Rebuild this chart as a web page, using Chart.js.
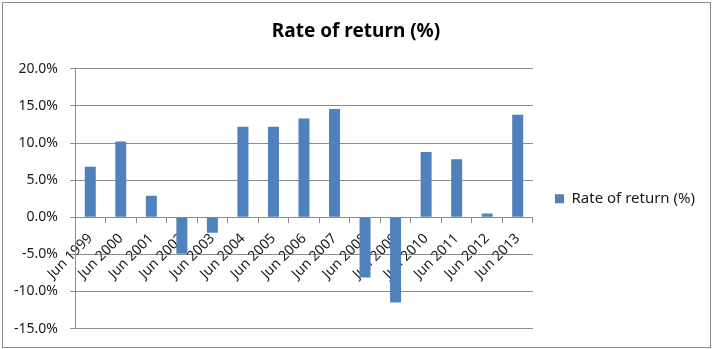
<!DOCTYPE html>
<html lang="en">
<head>
  <meta charset="UTF-8">
  <title>Rate of return</title>
  <style>
    body { margin: 0; background: #fff; }
  </style>
</head>
<body>

  <canvas id="myChart" width="713" height="349"></canvas>

  <script src="https://cdn.jsdelivr.net/npm/chart.js"></script>
  <script>
const labels = ['Jun 1999', 'Jun 2000', 'Jun 2001', 'Jun 2002', 'Jun 2003', 'Jun 2004', 'Jun 2005', 'Jun 2006',
                'Jun 2007', 'Jun 2008', 'Jun 2009', 'Jun 2010', 'Jun 2011', 'Jun 2012', 'Jun 2013'];
const returns = [6.8, 10.2, 2.9, -4.9, -2.1, 12.2, 12.2, 13.3, 14.6, -8.1, -11.5, 8.8, 7.8, 0.5, 13.8]; // %
const yTicks = [-15, -10, -5, 0, 5, 10, 15, 20];

const FONT = '"Noto Sans", "Liberation Sans", sans-serif';

// outer frame like the excel chart border
const framePlugin = {
  id: 'frame',
  afterDraw: (chart) => {
    const ctx = chart.ctx;
    ctx.save();
    ctx.strokeStyle = '#8a8a8a';
    ctx.lineWidth = 1;
    ctx.strokeRect(2.5, 2.5, 708, 345);
    ctx.restore();
  }
};

const ctx = document.getElementById('myChart').getContext('2d');
const myChart = new Chart(ctx, {
  type: 'bar',
  data: {
    labels: labels,
    datasets: [{
      label: 'Rate of return (%)',
      data: returns,
      backgroundColor: '#4f81bd',
      borderWidth: 0,
      categoryPercentage: 1,
      barPercentage: 0.36
    }]
  },
  options: {
    responsive: false,
    animation: false,
    layout: { padding: { left: 7, right: 8, top: 0, bottom: 16 } },
    scales: {
      x: {
        position: { y: 0 },
        grid: {
          offset: true,
          drawOnChartArea: false,
          drawTicks: true,
          tickLength: 5,
          color: '#8c8c8c'
        },
        border: { display: true, color: '#8c8c8c' },
        ticks: {
          minRotation: 45,
          maxRotation: 45,
          autoSkip: false,
          padding: 8,
          color: '#1a1a1a',
          font: { family: FONT, size: 14 }
        }
      },
      y: {
        min: -15,
        max: 20,
        afterBuildTicks: (scale) => { scale.ticks = yTicks.map(v => ({ value: v })); },
        afterFit: (scale) => { scale.width = 68; },
        grid: {
          color: '#8c8c8c',
          tickLength: 5
        },
        border: { display: true, color: '#8c8c8c' },
        ticks: {
          padding: 12,
          color: '#1a1a1a',
          font: { family: FONT, size: 14 },
          callback: (v) => v.toFixed(1) + '%'
        }
      }
    },
    plugins: {
      title: {
        display: true,
        text: 'Rate of return (%)',
        color: '#000',
        font: { family: FONT, size: 19, weight: 'bold' },
        padding: { top: 20, bottom: 26 }
      },
      legend: {
        display: true,
        position: 'right',
        fullSize: false,
        labels: {
          boxWidth: 9,
          boxHeight: 9,
          padding: 22,
          color: '#1a1a1a',
          font: { family: FONT, size: 15 }
        }
      },
      tooltip: { enabled: false }
    }
  },
  plugins: [framePlugin]
});
  </script>

</body>
</html>
